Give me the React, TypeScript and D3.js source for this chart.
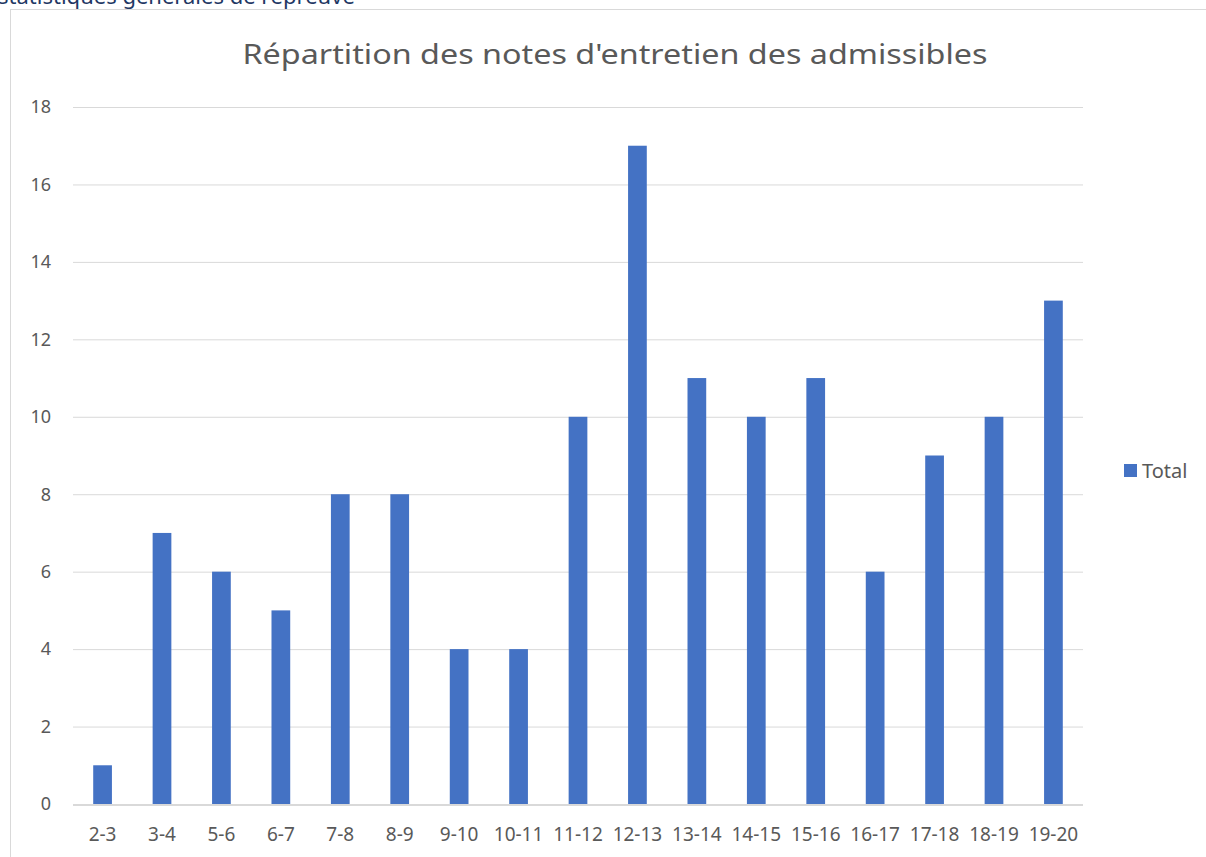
import React from 'react';
import * as d3 from 'd3';

const categories = ['2-3', '3-4', '5-6', '6-7', '7-8', '8-9', '9-10', '10-11', '11-12', '12-13', '13-14', '14-15', '15-16', '16-17', '17-18', '18-19', '19-20'];
const totals = [1, 7, 6, 5, 8, 8, 4, 4, 10, 17, 11, 10, 11, 6, 9, 10, 13];
const yTicks = [0, 2, 4, 6, 8, 10, 12, 14, 16, 18];

const App = () => {
    const width = 1206;
    const height = 857;
    const left = 73;
    const right = 1083;
    const top = 107;
    const bottom = 804;
    const font = "'Noto Sans', sans-serif";
    const grey = '#595959';

    const x = d3.scaleBand().domain(categories).range([left, right]).paddingInner(0.685).paddingOuter(0.34);
    const y = d3.scaleLinear().domain([0, 18]).range([bottom, top]);

    return (
        <svg width={width} height={height} style={{ position: 'absolute', left: 0, top: 0, background: '#fff' }}>
            {/* clipped page heading above the chart */}
            <text x={-2} y={4} fontFamily={font} fontSize={22} fill="#1f3864">
                statistiques générales de l'épreuve
            </text>
            <rect x={10.5} y={9.5} width={1210} height={860} fill="#fff" stroke="#d9d9d9" />

            <text x={615} y={64} textAnchor="middle" fontFamily={font} fontSize={28} fill={grey}
                textLength={745} lengthAdjust="spacingAndGlyphs">
                Répartition des notes d'entretien des admissibles
            </text>

            {yTicks.map(t => (
                <g key={t}>
                    {t > 0 && <line x1={left} x2={right} y1={y(t) + 0.5} y2={y(t) + 0.5} stroke="#d9d9d9" />}
                    <text x={51} y={y(t)} dy="0.35em" textAnchor="end" fontFamily={font} fontSize={18} fill={grey}>
                        {t}
                    </text>
                </g>
            ))}

            {categories.map((c, i) => (
                <rect key={c} x={x(c)} y={y(totals[i])} width={x.bandwidth()} height={bottom - y(totals[i])} fill="#4472c4" />
            ))}

            <line x1={left} x2={right} y1={bottom + 1} y2={bottom + 1} stroke="#d9d9d9" strokeWidth={2} />

            {categories.map(c => (
                <text key={c} x={(x(c) || 0) + x.bandwidth() / 2} y={834} dy="0.35em" textAnchor="middle"
                    fontFamily={font} fontSize={19} fill={grey}>
                    {c}
                </text>
            ))}

            <rect x={1124} y={464} width={13} height={13} fill="#4472c4" />
            <text x={1142} y={471} dy="0.35em" fontFamily={font} fontSize={20} fill={grey}>
                Total
            </text>
        </svg>
    );
};

export default App;
